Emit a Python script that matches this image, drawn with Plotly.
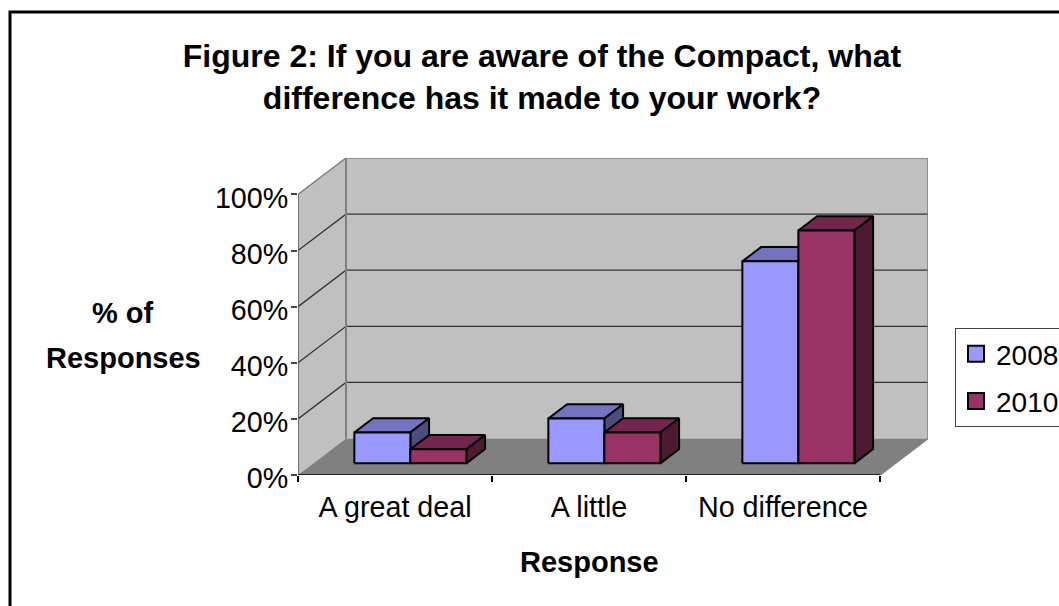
import plotly.graph_objects as go

categories = ["A great deal", "A little", "No difference"]
series_2008 = [11, 16, 72]
series_2010 = [5, 11, 83]
y_ticks = [0, 20, 40, 60, 80, 100]
y_labels = ["0%", "20%", "40%", "60%", "80%", "100%"]

BLUE = ("#9999FF", "#7373BF", "#4D4D80")
RED = ("#993366", "#73264D", "#4D1933")
DX, DY = 0.2474, 13.0     # oblique shift of the full chart depth, in axis units
BAR_W, D0, D1 = 0.2887, 0.32, 0.71
FONT = "Liberation Sans, Arial, sans-serif"
W, H = 1059, 606
L, R, T, B = 298, 928, 158, 475


def px(v):
    return (v - L) / (R - L)


def py(v):
    return (B - v) / (B - T)


def pt(x, y, d=0.0):
    return x + DX * d, y + DY * d


def poly(points, fill, line_color=None, width=0):
    xs, ys = zip(*(points + points[:1]))
    return go.Scatter(x=xs, y=ys, mode="lines", fill="toself", fillcolor=fill,
                      line=dict(color=line_color or fill, width=width),
                      showlegend=False, hoverinfo="skip")


def line(points, color, width):
    xs, ys = zip(*points)
    return go.Scatter(x=xs, y=ys, mode="lines", line=dict(color=color, width=width),
                      showlegend=False, hoverinfo="skip")


def bar_faces(x0, value, colors):
    x1 = x0 + BAR_W
    return [
        poly([pt(x0, value, D0), pt(x1, value, D0), pt(x1, value, D1), pt(x0, value, D1)], colors[1], "#000000", 2),
        poly([pt(x1, 0, D0), pt(x1, 0, D1), pt(x1, value, D1), pt(x1, value, D0)], colors[2], "#000000", 2),
        poly([pt(x0, 0, D0), pt(x1, 0, D0), pt(x1, value, D0), pt(x0, value, D0)], colors[0], "#000000", 2),
    ]


n = len(categories)
traces = [
    poly([pt(0, 0, 1), pt(n, 0, 1), pt(n, 100, 1), pt(0, 100, 1)], "#C0C0C0"),
    poly([pt(0, 0), pt(0, 0, 1), pt(0, 100, 1), pt(0, 100)], "#C0C0C0"),
    poly([pt(0, 0), pt(n, 0), pt(n, 0, 1), pt(0, 0, 1)], "#808080"),
]
for v in y_ticks[1:-1]:
    traces.append(line([pt(0, v), pt(0, v, 1), pt(n, v, 1)], "#333333", 1.3))
traces.append(line([pt(0, 100), pt(0, 100, 1), pt(n, 100, 1), pt(n, 0, 1), pt(n, 0)], "#808080", 1.5))
traces.append(line([pt(0, 0, 1), pt(0, 100, 1)], "#808080", 2))
traces.append(line([pt(0, 0), pt(0, 100)], "#555555", 1.5))
traces.append(line([pt(0, 0), pt(n, 0)], "#000000", 1.5))

for i in range(n):
    x0 = i + 0.5 - BAR_W
    traces += bar_faces(x0, series_2008[i], BLUE)
    traces += bar_faces(x0 + BAR_W, series_2010[i], RED)

for name, colors in (("2008", BLUE), ("2010", RED)):
    traces.append(go.Scatter(x=[None], y=[None], mode="markers", name=name, legendgroup=name,
                             marker=dict(symbol="square", size=16, color=colors[0],
                                         line=dict(color="#000000", width=2))))

fig = go.Figure(traces)
fig.update_layout(
    width=W, height=H, autosize=False,
    margin=dict(l=L, r=W - R, t=T, b=H - B, autoexpand=False),
    paper_bgcolor="#FFFFFF", plot_bgcolor="rgba(0,0,0,0)",
    font=dict(family=FONT, size=28.7, color="#000000"),
    title=dict(text="<b>Figure 2: If you are aware of the Compact, what<br>difference has it made to your work?</b>",
               x=542 / W, xanchor="center", y=1 - 67 / H, yanchor="middle", font=dict(size=32, family=FONT)),
    xaxis=dict(range=[0, n + DX], tickvals=[0.5, 1.5, 2.5], ticktext=categories, ticks="",
               ticklabelstandoff=12,
               showgrid=False, zeroline=False, showline=False,
               minor=dict(tickvals=list(range(n + 1)), ticks="outside", ticklen=6, tickcolor="#000000",
                          tickwidth=1.5, showgrid=False)),
    yaxis=dict(range=[0, 100 + DY], tickvals=y_ticks, ticktext=y_labels, ticks="outside", ticklen=6,
               ticklabelshift=3, ticklabelstandoff=-3,
               tickcolor="#444444", tickwidth=1.5, showgrid=False, zeroline=False, showline=False),
    showlegend=True,
    legend=dict(x=px(955), y=py(328), xanchor="left", yanchor="top",
                bordercolor="#444444", borderwidth=1, bgcolor="#FFFFFF", font=dict(size=28),
                itemsizing="trace", tracegroupgap=8),
    annotations=[
        dict(text="<b>% of</b>", xref="paper", yref="paper", x=px(123), y=py(313), showarrow=False,
             xanchor="center", yanchor="middle", font=dict(size=29, family=FONT)),
        dict(text="<b>Responses</b>", xref="paper", yref="paper", x=px(123), y=py(358), showarrow=False,
             xanchor="center", yanchor="middle", font=dict(size=29, family=FONT)),
        dict(text="<b>Response</b>", xref="x", yref="paper", x=1.5, y=py(562), showarrow=False,
             xanchor="center", yanchor="middle", font=dict(size=29, family=FONT)),
    ],
    shapes=[dict(type="rect", xref="paper", yref="paper", x0=px(10), x1=px(1200), y0=py(800), y1=py(12),
                 line=dict(color="#000000", width=3), fillcolor="rgba(0,0,0,0)", layer="below")],
)
fig.write_html("out.html", config={"displayModeBar": False},
               post_script="document.body.style.margin='0';document.body.style.overflow='hidden';")
